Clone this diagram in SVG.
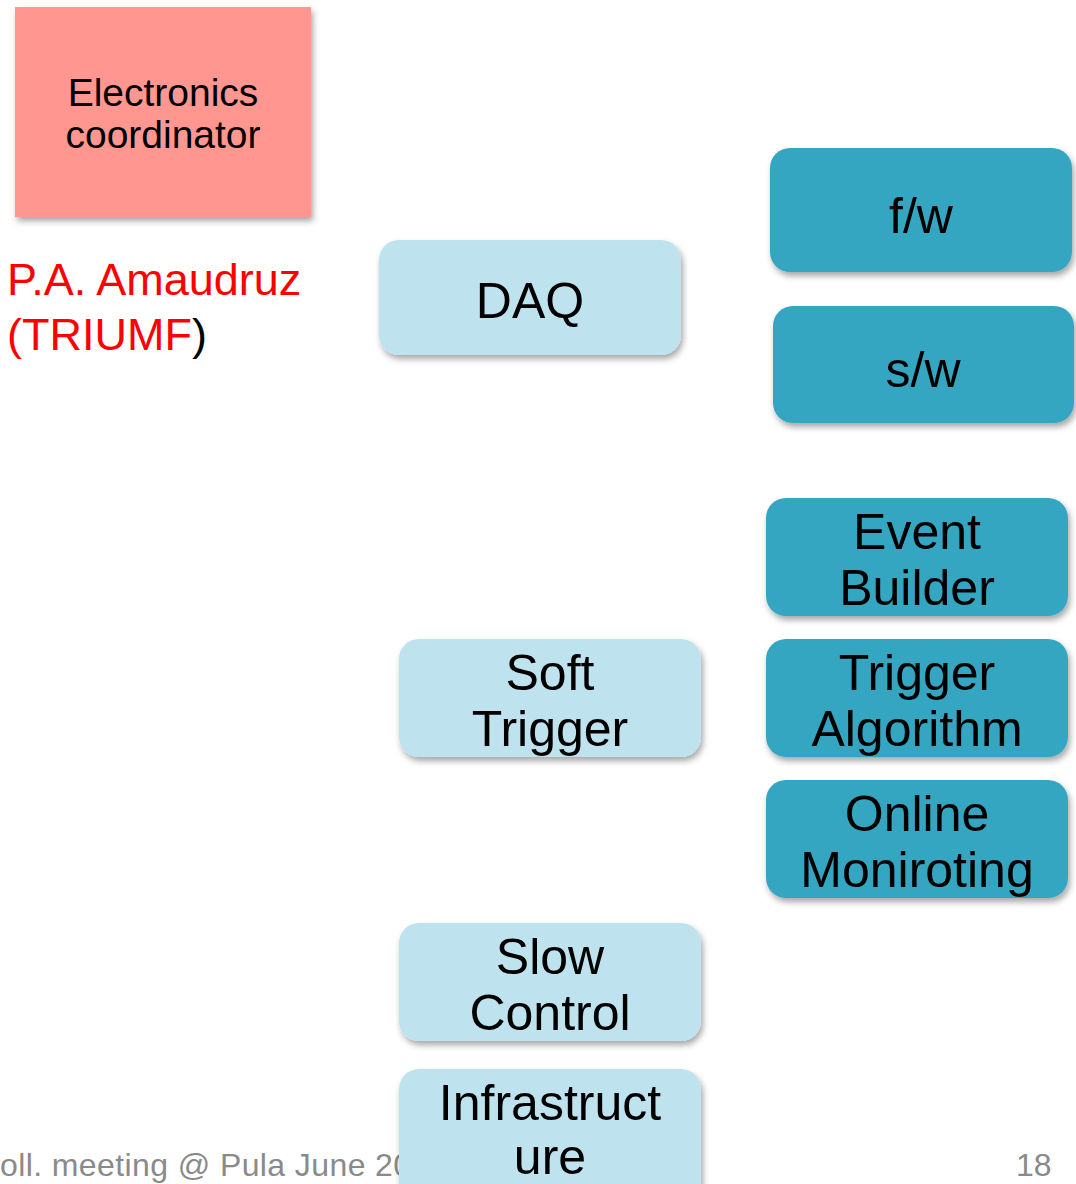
<svg xmlns="http://www.w3.org/2000/svg" width="1076" height="1184" viewBox="0 0 1076 1184">
<defs>
<filter id="sh" x="-10%" y="-10%" width="125%" height="135%">
<feDropShadow dx="2" dy="4" stdDeviation="3" flood-color="#000" flood-opacity="0.35"/>
</filter>
<style>
text{font-family:"Liberation Sans",Arial,sans-serif;}
.lt{fill:#bee3ee;filter:url(#sh);}
.dk{fill:#36a6c1;filter:url(#sh);}
.t{font-size:50px;fill:#000;text-anchor:middle;}
.foot{font-size:32px;fill:#8a8a8a;}
</style>
</defs>
<rect width="1076" height="1184" fill="#fff"/>
<text class="foot" x="0" y="1176" letter-spacing="0.4">oll. meeting @ Pula June 20</text>
<text class="foot" x="1016" y="1176">18</text>
<g id="electronics-coordinator">
<rect x="15" y="7" width="296" height="210" fill="#ff9690" filter="url(#sh)"/>
<text x="163" y="106" font-size="39" text-anchor="middle" fill="#000">Electronics</text>
<text x="163" y="148" font-size="39" text-anchor="middle" fill="#000">coordinator</text>
</g>
<g id="amaudruz">
<text x="7" y="295" font-size="45" fill="#ff0000">P.A. Amaudruz</text>
<text x="7" y="350" font-size="45" fill="#ff0000">(TRIUMF<tspan fill="#000">)</tspan></text>
</g>
<g id="connectors"></g>
<g id="daq">
<rect class="lt" x="379" y="240" width="302" height="115" rx="20"/>
<text class="t" x="530" y="318">DAQ</text>
</g>
<g id="fw">
<rect class="dk" x="770" y="148" width="302" height="124" rx="20"/>
<text class="t" x="921" y="233">f/w</text>
</g>
<g id="sw">
<rect class="dk" x="773" y="306" width="301" height="117" rx="20"/>
<text class="t" x="923" y="387">s/w</text>
</g>
<g id="event-builder">
<rect class="dk" x="766" y="498" width="302" height="118" rx="20"/>
<text class="t" x="917" y="549">Event</text>
<text class="t" x="917" y="605">Builder</text>
</g>
<g id="trigger-algorithm">
<rect class="dk" x="766" y="639" width="302" height="118" rx="20"/>
<text class="t" x="917" y="690">Trigger</text>
<text class="t" x="917" y="746">Algorithm</text>
</g>
<g id="online-monitoring">
<rect class="dk" x="766" y="780" width="302" height="118" rx="20"/>
<text class="t" x="917" y="831">Online</text>
<text class="t" x="917" y="887">Moniroting</text>
</g>
<g id="soft-trigger">
<rect class="lt" x="399" y="639" width="302" height="118" rx="20"/>
<text class="t" x="550" y="690">Soft</text>
<text class="t" x="550" y="746">Trigger</text>
</g>
<g id="slow-control">
<rect class="lt" x="399" y="923" width="302" height="118" rx="20"/>
<text class="t" x="550" y="974">Slow</text>
<text class="t" x="550" y="1030">Control</text>
</g>
<g id="infrastructure">
<rect class="lt" x="399" y="1069" width="302" height="140" rx="20"/>
<text class="t" x="550" y="1120">Infrastruct</text>
<text class="t" x="550" y="1174">ure</text>
</g>
</svg>
